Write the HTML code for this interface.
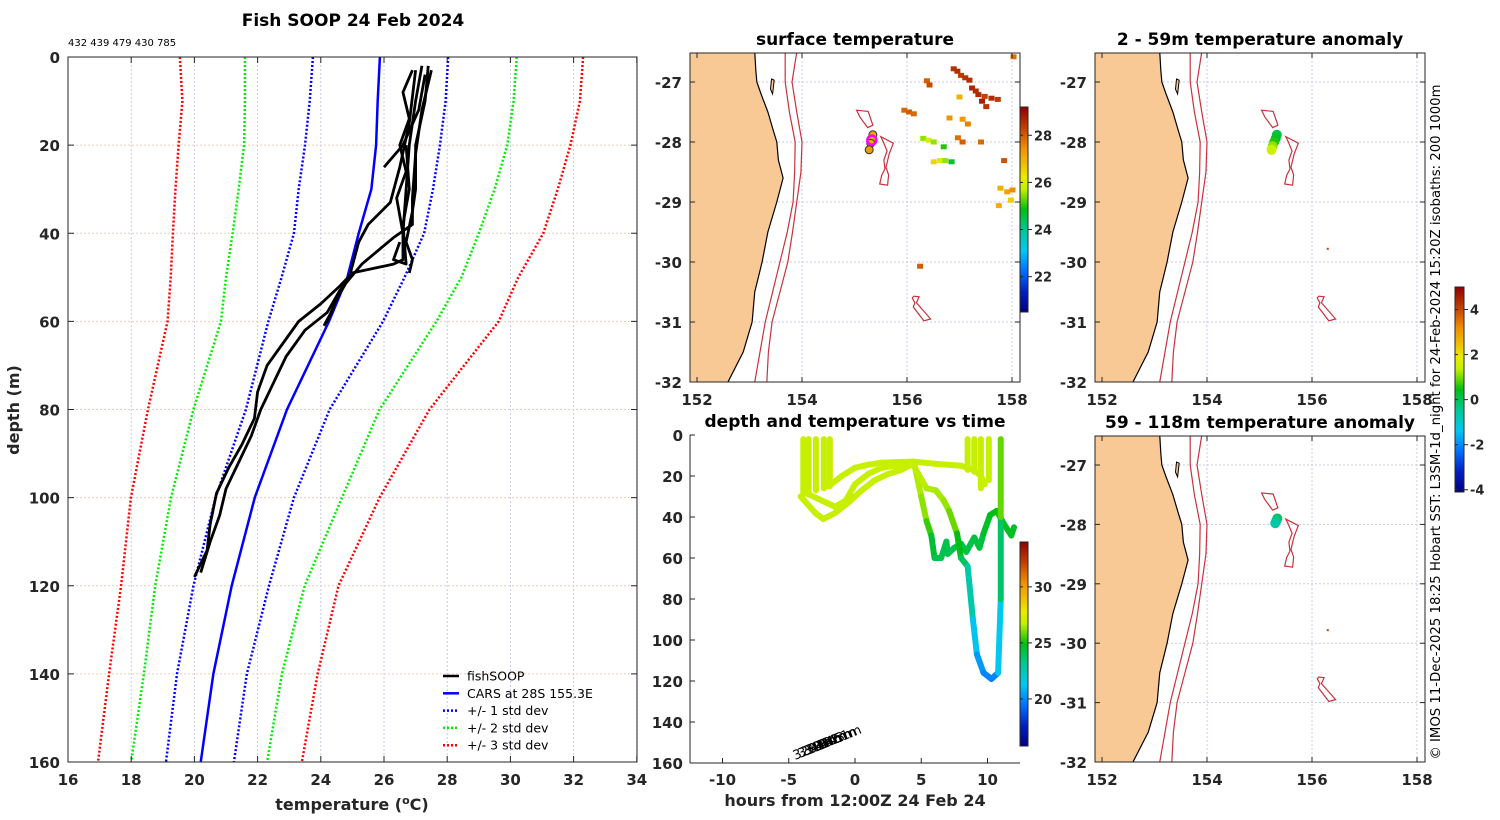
<!DOCTYPE html>
<html><head><meta charset="utf-8"><style>
html,body{margin:0;padding:0;background:#fff;}
svg{display:block;font-family:"DejaVu Sans","Liberation Sans",sans-serif;}
</style></head><body>
<svg id="fig" width="1500" height="820" viewBox="0 0 1500 820" xmlns="http://www.w3.org/2000/svg"></svg>
<script>
// ---------------- data ----------------
const depthTicks = [0,20,40,60,80,100,120,140,160];
const tempTicks = [16,18,20,22,24,26,28,30,32,34];
const carsDepth = [0,10,20,30,40,50,60,80,100,120,140,160];
const carsMean = [25.87,25.8,25.75,25.6,25.2,24.84,24.26,22.93,21.91,21.18,20.6,20.2];
const std1Lo = [23.75,23.65,23.5,23.3,23.15,22.76,22.34,21.63,20.67,19.97,19.45,19.1];
const std1Hi = [28.03,27.95,27.77,27.55,27.27,26.65,25.97,24.28,23.15,22.36,21.66,21.25];
const std2Lo = [21.6,21.6,21.57,21.4,21.21,21.0,20.84,19.97,19.26,18.76,18.4,18.0];
const std2Hi = [30.2,30.1,29.9,29.5,29.0,28.45,27.66,25.86,24.67,23.49,22.77,22.3];
const std3Lo = [19.54,19.62,19.5,19.4,19.32,19.25,19.15,18.53,17.99,17.68,17.3,16.95];
const std3Hi = [32.3,32.2,31.9,31.5,31.04,30.25,29.63,27.44,25.86,24.56,23.9,23.4];
const fish1T = [27.2,27.0,26.8,26.7,26.6,26.6,26.3,25.0,24.6,24.0,23.3,22.9,22.3,22.0,21.9,21.5,21.1,20.7,20.5,20.4,20.0];
const fish1D = [2,10,20,30,40,46,47,49,52,56,60,64,70,76,82,88,93,99,106,112,118];
const fish2T = [27.5,27.2,27.0,26.9,26.9,26.3,25.3,24.6,24.2,23.5,22.9,22.5,22.1,21.8,21.4,21.0,20.8,20.5,20.2];
const fish2D = [3,12,22,32,38,41,47,53,58,62,68,74,80,86,92,98,104,110,117];
const fish3T = [27.0,26.8,26.5,26.2,25.5,25.2,24.9,24.5,24.2,24.4,24.1];
const fish3D = [3,15,25,33,38,42,50,55,60,57,61];
const fish4T = [27.3,27.1,26.6,26.0];
const fish4D = [4,12,20,25];
const fish5T = [27.4,27.3,27.0,27.0,26.9,26.7,26.9,26.8];
const fish5D = [2,10,20,30,35,42,46,49];
const fish6T = [26.5,26.3,26.7,26.6,26.8,26.7];
const fish6D = [42,46,47,38,30,20];
const fish7T = [26.9,26.6,26.8,26.5,26.7,26.4,26.6];
const fish7D = [3,8,14,20,26,32,40];

const coastLat = [-26.4,-26.5,-26.8,-27.0,-27.2,-27.5,-27.8,-28.0,-28.3,-28.6,-29.0,-29.5,-30.0,-30.5,-31.0,-31.5,-32.0,-32.1];
const coastLon = [153.10,153.10,153.12,153.14,153.22,153.35,153.45,153.52,153.55,153.64,153.52,153.35,153.24,153.10,153.05,152.88,152.59,152.55];
const isoLat = [-26.4,-26.5,-27.0,-27.5,-28.0,-28.5,-29.0,-29.5,-30.0,-30.5,-31.0,-31.5,-32.0,-32.1];
const iso200Lon = [153.68,153.68,153.68,153.76,153.87,153.86,153.83,153.72,153.58,153.44,153.30,153.20,153.10,153.08];
const iso1000Lon = [153.90,153.90,153.81,153.90,154.00,153.98,153.90,153.82,153.73,153.58,153.43,153.36,153.33,153.32];
const mount1Lon = [155.04,155.26,155.35,155.25,155.10];
const mount1Lat = [-27.47,-27.49,-27.72,-27.76,-27.58];
const mount2Lon = [155.50,155.74,155.66,155.60,155.65,155.63,155.48,155.52,155.58,155.56,155.62,155.55];
const mount2Lat = [-27.91,-28.02,-28.20,-28.42,-28.55,-28.72,-28.70,-28.55,-28.45,-28.30,-28.15,-28.00];
const mount3Lon = [156.13,156.23,156.18,156.30,156.45,156.32,156.12,156.15,156.10];
const mount3Lat = [-30.57,-30.58,-30.68,-30.80,-30.95,-30.98,-30.75,-30.68,-30.60];

const sstLon = [158.02,156.88,156.95,157.02,157.10,157.18,157.23,157.35,157.42,157.50,157.60,157.72,157.47,157.30,156.37,156.42,155.94,156.03,156.12,156.80,156.96,157.05,157.40,157.84,156.30,156.40,156.50,156.69,156.62,156.72,156.84,156.50,157.77,157.90,157.97,158.00,157.74,156.24,156.99,157.05,157.15];
const sstLat = [-26.58,-26.78,-26.82,-26.89,-26.93,-26.97,-27.10,-27.21,-27.32,-27.41,-27.27,-27.29,-27.24,-27.15,-26.98,-27.05,-27.47,-27.50,-27.53,-27.60,-27.93,-28.00,-28.00,-28.31,-27.94,-27.97,-28.00,-28.08,-28.31,-28.31,-28.33,-28.33,-28.77,-28.83,-28.97,-28.80,-29.06,-30.07,-27.25,-27.62,-27.70];
const sstTemp = [27.8,28.5,28.6,28.4,28.5,28.6,28.7,28.6,28.8,28.5,28.6,28.4,28.3,28.6,28.0,28.2,27.9,28.0,27.9,27.4,27.8,28.0,27.9,28.1,25.5,26.0,25.5,25.0,26.0,25.5,24.6,26.5,27.0,27.2,26.6,27.5,27.0,28.0,27.0,27.3,27.6];

const trackLon = [155.35,155.33,155.31,155.28];
const trackLat = [-27.88,-27.95,-28.02,-28.13];
const trackSst = [27.2,27.0,27.1,27.3];
const anomTopLon = [155.33,155.31,155.28,155.25,155.23];
const anomTopLat = [-27.88,-27.94,-28.0,-28.07,-28.13];
const anomTopVal = [0.1,0.3,0.6,1.1,1.5];
const anomBotLon = [155.34,155.32,155.30];
const anomBotLat = [-27.90,-27.94,-27.98];
const anomBotVal = [-0.1,-0.3,-0.6];

const hourTicks = [-10,-5,0,5,10];
const trAh = [4.4,4.5,5.0,5.4,5.76,6.0,6.5,6.9,7.0,7.5,8.0,8.4,9.0,9.4,9.7,10.2,10.7,11.2,11.8,12.0];
const trAd = [13,15,30,42,49,60,60,52,58,55,53,57,50,55,48,39,37,43,49,45];
const trAt = [26.8,26.7,26.4,26.0,24.8,24.2,24.0,24.2,24.0,24.1,24.2,24.1,24.3,24.2,24.4,24.8,25.0,24.8,24.6,24.7];
const trBh = [4.4,4.6,5.4,6.1,6.7,7.1,7.7,8.0,8.5,8.9,9.2,9.7,10.3,10.8,11.0,11.0,11.0];
const trBd = [13,17,26,27,32,37,48,60,64,90,107,116,119,116,80,40,2];
const trBt = [26.8,26.7,26.6,26.5,26.4,26.2,25.5,24.3,23.5,21.8,20.6,20.0,19.8,20.0,22.5,25.0,26.6];
const trCh = [-4.1,-3,-2.4,-1.5,-0.5,0.5,1.5,2.5,3.5,4.4];
const trCd = [30,38,41,38,33,27,22,19,17,14];
const trDh = [-3.8,-2.5,-1.5,-0.7,0,1,2,3,4.4];
const trDd = [28,32,35,32,24,19,16,15,14];
const trEh = [-2,-1,0,1,2,4.4];
const trEd = [25,20,16,14.5,13.5,13];
const trFh = [4.4,6,8,9,9.5,9.8];
const trFd = [13,14,15,17,20,24];
const yoyoHours = [-3.9,-3.5,-2.95,-2.35,-1.9,8.5,9.0,9.5,10.1];
const yoyoBottom = [29,28,27,26,25,17,18,26,22];
const surfTemp = 26.8;
const diveLabels = ['3203m','3303m','3404m','3432m','3443m','3451m'];

// ---------------- helpers ----------------
const NS = "http://www.w3.org/2000/svg";
const svg = document.getElementById('fig');
function mk(tag, attrs, parent, name, inter) {
  const e = document.createElementNS(NS, tag);
  for (const k in attrs) e.setAttribute(k, attrs[k]);
  
  
  (parent || svg).appendChild(e);
  return e;
}
function txt(str, x, y, opts, parent, name) {
  const a = Object.assign({x:x, y:y, 'font-size':15, 'font-weight':'bold', fill:'#262626'}, opts || {});
  const t = mk('text', a, parent, name, false);
  t.textContent = str;
  return t;
}
const cstops = [[0,[0,0,128]],[0.1,[0,32,192]],[0.2,[0,112,255]],[0.3,[0,200,240]],[0.4,[0,200,150]],[0.5,[0,190,20]],[0.55,[100,215,0]],[0.6,[195,240,0]],[0.66,[235,235,0]],[0.72,[240,192,0]],[0.8,[240,144,0]],[0.9,[192,64,0]],[1,[144,0,0]]];
function cmap(v, lo, hi) {
  let t = Math.max(0, Math.min(1, (v-lo)/(hi-lo)));
  for (let i=1;i<cstops.length;i++){
    if (t <= cstops[i][0]) {
      const a=cstops[i-1], b=cstops[i], f=(t-a[0])/(b[0]-a[0]);
      const c=a[1].map((x,j)=>Math.round(x+(b[1][j]-x)*f));
      return 'rgb('+c.join(',')+')';
    }
  }
  return 'rgb(144,0,0)';
}
function colorbar(x, y, w, h, lo, hi, ticks, name) {
  const g = mk('g', {}, svg, name, false);
  const gid = name + '-grad';
  const defs = mk('defs', {}, g, name + '-defs', false);
  const lg = mk('linearGradient', {id:gid, x1:0, y1:1, x2:0, y2:0}, defs, name + '-gradient', false);
  cstops.forEach(s => { mk('stop', {offset:s[0], 'stop-color':'rgb('+s[1].join(',')+')'}, lg, 'gradient-stop', false); });
  mk('rect', {x:x, y:y, width:w, height:h, fill:'url(#'+gid+')', stroke:'#262626', 'stroke-width':1}, g, name + '-bar', false);
  ticks.forEach(v => {
    const ty = y + h - (v-lo)/(hi-lo)*h;
    mk('line', {x1:x+w, x2:x+w+4, y1:ty, y2:ty, stroke:'#262626'}, g, 'colorbar-tick', false);
    mk('line', {x1:x, x2:x+3, y1:ty, y2:ty, stroke:'#262626'}, g, 'colorbar-tick', false);
    txt(String(v), x+w+6, ty+5, {'font-size':13}, g, 'colorbar-tick-label');
  });
}

// ---------------- header ----------------
txt('Fish SOOP 24 Feb 2024', 353, 26, {'font-size':17, 'text-anchor':'middle', fill:'#000'}, svg, 'figure-title');
txt('432 439 479 430 785', 68, 46, {'font-size':10, 'font-weight':'normal', fill:'#000'}, svg, 'profile-ids');

// ---------------- left panel: temperature profile ----------------
(function(){
  const L=68, R=637, T=57, B=762;
  const xT = t => L + (t-16)*31.6;
  const yD = d => T + d*(B-T)/160;
  const g = mk('g', {}, svg, 'profile-panel', false);
  tempTicks.forEach(t => {
    mk('line', {x1:xT(t), x2:xT(t), y1:T, y2:B, stroke:'#c9cbe8', 'stroke-dasharray':'2,2', 'stroke-width':1}, g, 'x-gridline', false);
  });
  depthTicks.forEach(d => {
    mk('line', {x1:L, x2:R, y1:yD(d), y2:yD(d), stroke:'#e6cfc0', 'stroke-dasharray':'2,2', 'stroke-width':1}, g, 'y-gridline', false);
  });
  const curves = [[std3Lo,'#ff0000','std-dev-3-lower'],[std3Hi,'#ff0000','std-dev-3-upper'],[std2Lo,'#00ee00','std-dev-2-lower'],[std2Hi,'#00ee00','std-dev-2-upper'],[std1Lo,'#0000ff','std-dev-1-lower'],[std1Hi,'#0000ff','std-dev-1-upper']];
  curves.forEach(c => {
    mk('polyline', {points: carsDepth.map((d,i)=>xT(c[0][i])+','+yD(d)).join(' '), fill:'none', stroke:c[1], 'stroke-width':2.5, 'stroke-dasharray':'2,2'}, g, c[2], false);
  });
  mk('polyline', {points: carsDepth.map((d,i)=>xT(carsMean[i])+','+yD(d)).join(' '), fill:'none', stroke:'#0000ff', 'stroke-width':2.5}, g, 'cars-mean-line', false);
  const fish = [[fish1T,fish1D],[fish2T,fish2D],[fish3T,fish3D],[fish4T,fish4D],[fish5T,fish5D],[fish6T,fish6D],[fish7T,fish7D]];
  fish.forEach((f,n) => {
    mk('polyline', {points: f[0].map((t,i)=>xT(t)+','+yD(f[1][i])).join(' '), fill:'none', stroke:'#000', 'stroke-width':2.8, 'stroke-linejoin':'round'}, g, 'fishsoop-profile-'+(n+1), false);
  });
  mk('rect', {x:L, y:T, width:R-L, height:B-T, fill:'none', stroke:'#262626', 'stroke-width':1}, g, 'profile-axes-box', false);
  tempTicks.forEach(t => {
    mk('line', {x1:xT(t), x2:xT(t), y1:B, y2:B-6, stroke:'#262626'}, g, 'x-tick', false);
    mk('line', {x1:xT(t), x2:xT(t), y1:T, y2:T+6, stroke:'#262626'}, g, 'x-tick', false);
    txt(String(t), xT(t), 785, {'text-anchor':'middle'}, g, 'x-tick-label');
  });
  depthTicks.forEach(d => {
    mk('line', {x1:L, x2:L+6, y1:yD(d), y2:yD(d), stroke:'#262626'}, g, 'y-tick', false);
    mk('line', {x1:R, x2:R-6, y1:yD(d), y2:yD(d), stroke:'#262626'}, g, 'y-tick', false);
    txt(String(d), 60, yD(d)+6, {'text-anchor':'end'}, g, 'y-tick-label');
  });
  const xt = txt('', 352, 810, {'font-size':16, 'text-anchor':'middle'}, g, 'x-axis-title');
  const s1 = mk('tspan', {}, xt, 'x-axis-title-text', false); s1.textContent = 'temperature (';
  const s2 = mk('tspan', {dy:-6, 'font-size':11}, xt, 'degree-superscript', false); s2.textContent = 'o';
  const s3 = mk('tspan', {dy:6}, xt, 'x-axis-title-unit', false); s3.textContent = 'C)';
  txt('depth (m)', 0, 0, {'font-size':16, 'text-anchor':'middle', transform:'translate(19,410) rotate(-90)'}, g, 'y-axis-title');
  const lg = mk('g', {}, g, 'legend', false);
  const labels = ['fishSOOP','CARS at 28S 155.3E','+/- 1 std dev','+/- 2 std dev','+/- 3 std dev'];
  const lc = ['#000','#0000ff','#0000ff','#00ee00','#ff0000'];
  labels.forEach((l,i) => {
    const yy = 676 + i*17.3;
    const ln = mk('line', {x1:443, x2:459, y1:yy, y2:yy, stroke:lc[i], 'stroke-width':2.5}, lg, 'legend-swatch', false);
    if (i>=2) ln.setAttribute('stroke-dasharray','2,2');
    txt(l, 467, yy+4.5, {'font-size':12.5, 'font-weight':'normal', fill:'#000'}, lg, 'legend-entry');
  });
})();

// ---------------- maps ----------------
function drawMap(p, name) {
  const g = mk('g', {}, svg, name, false);
  const X = lon => p.x0 + (lon-152)*52.5;
  const Y = lat => p.y0 + (-27-lat)*p.ky;
  const cid = name+'-clip';
  const defs = mk('defs', {}, g, name+'-defs', false);
  const cp = mk('clipPath', {id:cid}, defs, name+'-clip', false);
  mk('rect', {x:p.l, y:p.t, width:p.r-p.l, height:p.b-p.t}, cp, name+'-clip-rect', false);
  const c = mk('g', {'clip-path':'url(#'+cid+')'}, g, name+'-content', false);
  [152,154,156,158].forEach(lon => mk('line', {x1:X(lon), x2:X(lon), y1:p.t, y2:p.b, stroke:'#c9cbe8', 'stroke-dasharray':'2,2'}, c, 'lon-gridline', false));
  [-27,-28,-29,-30,-31].forEach(lat => mk('line', {x1:p.l, x2:p.r, y1:Y(lat), y2:Y(lat), stroke:'#c9cbe8', 'stroke-dasharray':'2,2'}, c, 'lat-gridline', false));
  let land = X(150)+','+Y(-26.4)+' ';
  land += coastLat.map((la,i)=>X(coastLon[i])+','+Y(la)).join(' ');
  land += ' '+X(150)+','+Y(-32.1);
  mk('polygon', {points:land, fill:'#f9c995', stroke:'none'}, c, 'land', false);
  mk('polyline', {points:coastLat.map((la,i)=>X(coastLon[i])+','+Y(la)).join(' '), fill:'none', stroke:'#000', 'stroke-width':1.2}, c, 'coastline', false);
  mk('polygon', {points:[[153.42,-26.95],[153.47,-26.97],[153.44,-27.2],[153.40,-27.12]].map(q=>X(q[0])+','+Y(q[1])).join(' '), fill:'#f9c995', stroke:'#000', 'stroke-width':1}, c, 'island', false);
  mk('polyline', {points:isoLat.map((la,i)=>X(iso200Lon[i])+','+Y(la)).join(' '), fill:'none', stroke:'#c8323c', 'stroke-width':1.2}, c, 'isobath-200m', false);
  mk('polyline', {points:isoLat.map((la,i)=>X(iso1000Lon[i])+','+Y(la)).join(' '), fill:'none', stroke:'#c8323c', 'stroke-width':1.2}, c, 'isobath-1000m', false);
  [[mount1Lon,mount1Lat],[mount2Lon,mount2Lat],[mount3Lon,mount3Lat]].forEach((m,i)=>{
    mk('polygon', {points:m[0].map((lo,j)=>X(lo)+','+Y(m[1][j])).join(' '), fill:'none', stroke:'#c8323c', 'stroke-width':1.2}, c, 'seamount-contour-'+(i+1), false);
  });
  if (p.sst) {
    sstLon.forEach((lo,i)=>{
      mk('rect', {x:X(lo)-2.5, y:Y(sstLat[i])-2.5, width:6, height:5, fill:cmap(sstTemp[i],20.5,29.2)}, c, 'sst-pixel', false);
    });
    trackLon.forEach((lo,i)=>{
      mk('circle', {cx:X(lo), cy:Y(trackLat[i]), r:4, fill:cmap(trackSst[i],20.5,29.2), stroke:'#333', 'stroke-width':1}, c, 'track-point', false);
    });
    mk('circle', {cx:X(155.33), cy:Y(-27.97), r:4.5, fill:'none', stroke:'#ff00ff', 'stroke-width':2.5}, c, 'profile-location-marker', false);
  }
  if (p.anom) {
    p.anom[0].forEach((lo,i)=>{
      mk('circle', {cx:X(lo), cy:Y(p.anom[1][i]), r:5, fill:cmap(p.anom[2][i],-4.1,5)}, c, 'anomaly-point', false);
    });
    mk('rect', {x:X(156.3)-1, y:Y(-29.78)-1, width:2, height:2, fill:'#c04000'}, c, 'anomaly-pixel', false);
  }
  mk('rect', {x:p.l, y:p.t, width:p.r-p.l, height:p.b-p.t, fill:'none', stroke:'#262626', 'stroke-width':1}, g, name+'-box', false);
  [152,154,156,158].forEach(lon => {
    mk('line', {x1:X(lon), x2:X(lon), y1:p.b, y2:p.b-5, stroke:'#262626'}, g, 'lon-tick', false);
    mk('line', {x1:X(lon), x2:X(lon), y1:p.t, y2:p.t+5, stroke:'#262626'}, g, 'lon-tick', false);
    txt(String(lon), X(lon), p.b+23, {'text-anchor':'middle'}, g, 'lon-tick-label');
  });
  [-27,-28,-29,-30,-31,-32].forEach(lat => {
    mk('line', {x1:p.l, x2:p.l+5, y1:Y(lat), y2:Y(lat), stroke:'#262626'}, g, 'lat-tick', false);
    mk('line', {x1:p.r, x2:p.r-5, y1:Y(lat), y2:Y(lat), stroke:'#262626'}, g, 'lat-tick', false);
    txt(String(lat), p.l-8, Y(lat)+6, {'text-anchor':'end'}, g, 'lat-tick-label');
  });
  txt(p.title, (p.l+p.r)/2, p.t-8, {'font-size':17, 'text-anchor':'middle', fill:'#000'}, g, name+'-title');
}
drawMap({x0:697, y0:82, ky:60, l:690, t:53, r:1020, b:382, sst:true, title:'surface temperature'}, 'sst-map');
drawMap({x0:1102, y0:82, ky:60, l:1095, t:53, r:1425, b:382, anom:[anomTopLon,anomTopLat,anomTopVal], title:'2 - 59m temperature anomaly'}, 'anomaly-map-shallow');
drawMap({x0:1102, y0:465, ky:59.4, l:1095, t:436, r:1425, b:762, anom:[anomBotLon,anomBotLat,anomBotVal], title:'59 - 118m temperature anomaly'}, 'anomaly-map-deep');
colorbar(1020, 107, 8, 205, 20.5, 29.2, [22,24,26,28], 'sst-colorbar');
colorbar(1455, 287, 9, 205, -4.1, 5, [-4,-2,0,2,4], 'anomaly-colorbar');

// ---------------- depth vs time ----------------
(function(){
  const L=690, R=1020, T=435, B=763;
  const X = h => 855 + h*13.25;
  const Y = d => T + d*(B-T)/160;
  const g = mk('g', {}, svg, 'depth-time-panel', false);
  const drawTrace = (hs, ds, ts, nm) => {
    for (let i=1;i<hs.length;i++){
      const tv = ts ? (ts[i-1]+ts[i])/2 : surfTemp;
      mk('line', {x1:X(hs[i-1]), y1:Y(ds[i-1]), x2:X(hs[i]), y2:Y(ds[i]), stroke:cmap(tv,15.8,34), 'stroke-width':6, 'stroke-linecap':'round'}, g, nm, false);
    }
  };
  yoyoHours.forEach((h,i)=>{
    mk('line', {x1:X(h), x2:X(h), y1:Y(2), y2:Y(yoyoBottom[i]), stroke:cmap(surfTemp,15.8,34), 'stroke-width':6, 'stroke-linecap':'round'}, g, 'yoyo-profile', false);
  });
  drawTrace(trCh, trCd, null, 'shallow-trace');
  drawTrace(trDh, trDd, null, 'shallow-trace');
  drawTrace(trEh, trEd, null, 'shallow-trace');
  drawTrace(trFh, trFd, null, 'surface-trace');
  drawTrace(trAh, trAd, trAt, 'mid-depth-trace');
  drawTrace(trBh, trBd, trBt, 'deep-dive-trace');
  mk('line', {x1:L, x2:L, y1:T, y2:B, stroke:'#262626'}, g, 'y-axis-line', false);
  mk('line', {x1:L, x2:R, y1:B, y2:B, stroke:'#262626'}, g, 'x-axis-line', false);
  hourTicks.forEach(h => {
    mk('line', {x1:X(h), x2:X(h), y1:B, y2:B-5, stroke:'#262626'}, g, 'x-tick', false);
    txt(String(h), X(h), 785, {'text-anchor':'middle'}, g, 'x-tick-label');
  });
  depthTicks.forEach(d => {
    mk('line', {x1:L, x2:L+5, y1:Y(d), y2:Y(d), stroke:'#262626'}, g, 'y-tick', false);
    txt(String(d), 683, Y(d)+6, {'text-anchor':'end'}, g, 'y-tick-label');
  });
  txt('hours from 12:00Z 24 Feb 24', 855, 806, {'font-size':16, 'text-anchor':'middle'}, g, 'x-axis-title');
  txt('depth and temperature vs time', 855, 427, {'font-size':17, 'text-anchor':'middle', fill:'#000'}, g, 'depth-time-title');
  diveLabels.forEach((s,i)=>{
    txt(s, 0, 0, {'font-size':13, 'font-weight':'normal', fill:'#000', transform:'translate('+(795+i*5)+','+(760-i*2)+') rotate(-22)'}, g, 'dive-label');
  });
  colorbar(1020, 542, 8, 204, 15.8, 34, [20,25,30], 'time-temp-colorbar');
})();

txt('© IMOS 11-Dec-2025 18:25 Hobart SST: L3SM-1d_night for 24-Feb-2024 15:20Z isobaths: 200  1000m', 0, 0, {'font-size':13, 'font-weight':'normal', fill:'#000', 'text-anchor':'middle', textLength:675, lengthAdjust:'spacingAndGlyphs', transform:'translate(1440,422) rotate(-90)'}, svg, 'credit-text');
</script>
</body></html>
